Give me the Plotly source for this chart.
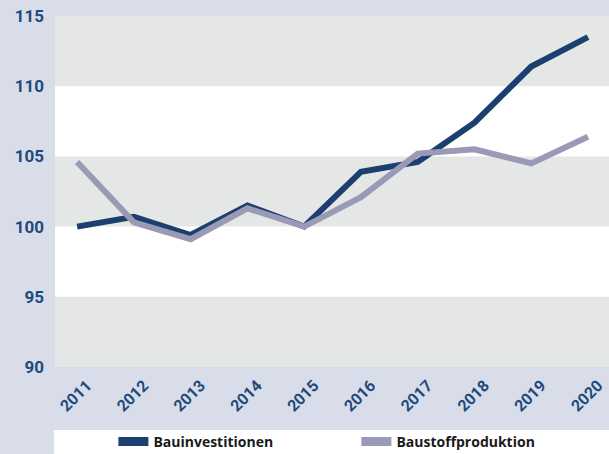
import plotly.graph_objects as go

years = ["2011", "2012", "2013", "2014", "2015", "2016", "2017", "2018", "2019", "2020"]
bauinvestitionen = [100.0, 100.7, 99.4, 101.5, 100.0, 103.9, 104.6, 107.4, 111.4, 113.5]
baustoffproduktion = [104.6, 100.3, 99.1, 101.3, 100.0, 102.1, 105.2, 105.5, 104.5, 106.4]
y_ticks = [90, 95, 100, 105, 110, 115]

NAVY = "#1B3F6E"
GREY = "#9A9AB6"
BG = "#D9DDEA"
BAND = "#E5E7E7"
TICK = "#1F4A7C"
FONT = "Roboto"

xi = list(range(len(years)))
fig = go.Figure()
fig.add_trace(go.Scatter(x=xi, y=bauinvestitionen, mode="lines", name="Bauinvestitionen",
                         line=dict(color=NAVY, width=6), showlegend=False))
fig.add_trace(go.Scatter(x=xi, y=baustoffproduktion, mode="lines", name="Baustoffproduktion",
                         line=dict(color=GREY, width=6), showlegend=False))
# legend entries
fig.add_trace(go.Scatter(x=[None], y=[None], mode="lines", name="Bauinvestitionen",
                         line=dict(color=NAVY, width=9)))
fig.add_trace(go.Scatter(x=[None], y=[None], mode="lines", name="Baustoffproduktion",
                         line=dict(color=GREY, width=9)))

# bands
for lo in [90, 100, 110]:
    fig.add_shape(type="rect", xref="paper", yref="y", x0=0, x1=1, y0=lo, y1=lo + 5,
                  fillcolor=BAND, line_width=0, layer="below")
# white legend strip
fig.add_shape(type="rect", xref="paper", yref="paper", x0=-0.002, x1=1, y0=-0.248, y1=-0.1795,
              fillcolor="white", line_width=0, layer="below")

fig.update_layout(
    width=609, height=454,
    margin=dict(l=55, r=0, t=16, b=87, autoexpand=False),
    paper_bgcolor=BG, plot_bgcolor="white",
    font=dict(family=FONT, color=TICK),
    showlegend=True,
    legend=dict(orientation="h", x=0.1054, xanchor="left", y=-0.2135, yanchor="middle",
                bgcolor="rgba(0,0,0,0)", entrywidth=198, entrywidthmode="pixels",
                font=dict(family="Open Sans", size=14, color="#1a1a1a", weight="bold"),
                itemwidth=30, tracegroupgap=0),
    xaxis=dict(range=[-0.39, 9.37], tickmode="array", tickvals=xi, ticktext=years,
               tickangle=-45, showgrid=False, zeroline=False, showline=False,
               tickfont=dict(family=FONT, size=16, color=TICK, weight="bold"),
               ticklabelshift=10, ticklabelstandoff=5, ticklabeloverflow="allow", ticks=""),
    yaxis=dict(range=[90, 115], tickmode="array", tickvals=y_ticks, showgrid=False,
               zeroline=False, showline=False, ticks="", ticklabelstandoff=10,
               tickfont=dict(family=FONT, size=17, color=TICK, weight="bold")),
)

fig.write_html("out.html")
